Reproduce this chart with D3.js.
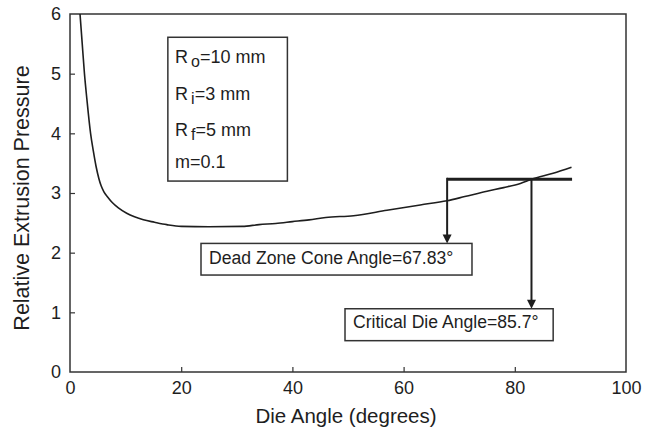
<!DOCTYPE html>
<html>
<head>
<meta charset="utf-8">
<script src="https://cdn.jsdelivr.net/npm/d3@7/dist/d3.min.js"></script>
<style>
  html, body { margin: 0; padding: 0; background: #fff; }
  svg { display: block; font-family: "Liberation Sans", Arial, Helvetica, sans-serif; }
</style>
</head>
<body>
<svg id="chart" width="651" height="433"></svg>
<script>
// Die angle (degrees) and relative extrusion pressure along the curve
const dieAngle = [1.8, 2.2, 2.6, 3.05, 3.7, 4.2, 4.7, 5.2, 5.6, 6.1, 6.8, 7.6, 8.7, 10.2, 11.6, 13.2, 15.2, 17.4, 20, 25, 31, 34, 37, 40, 43, 46, 51, 57, 63, 67.8, 71, 75, 78, 81, 83, 86.9, 90.2];
const pressure = [6.0, 5.5, 5.0, 4.56, 4.0, 3.7, 3.44, 3.24, 3.12, 3.02, 2.93, 2.84, 2.75, 2.66, 2.60, 2.55, 2.51, 2.47, 2.44, 2.435, 2.44, 2.47, 2.49, 2.52, 2.55, 2.59, 2.62, 2.71, 2.80, 2.87, 2.94, 3.03, 3.09, 3.16, 3.23, 3.33, 3.43];

// Reference pressure level and annotation values
const levelPressure = 3.23;
const levelAngleRange = [67.83, 90.3];
const deadZoneAngle = 67.83;
const criticalAngle = 85.7;

const xTicks = [0, 20, 40, 60, 80, 100];
const yTicks = [0, 1, 2, 3, 4, 5, 6];

const params = [
  { base: "R", sub: "o", rest: "=10 mm" },
  { base: "R", sub: "i", rest: "=3 mm" },
  { base: "R", sub: "f", rest: "=5 mm" },
  { base: "m=0.1", sub: "", rest: "" }
];

const svg = d3.select("#chart");
const margin = { left: 70, top: 14, right: 25, bottom: 61 };
const W = 651, H = 433;
const x = d3.scaleLinear().domain([0, 100]).range([margin.left, W - margin.right]);
const y = d3.scaleLinear().domain([0, 6]).range([H - margin.bottom, margin.top]);
const ink = "#1e1e1e";

svg.append("defs").append("clipPath").attr("id", "plotClip")
  .append("rect").attr("x", x(0)).attr("y", y(6)).attr("width", x(100) - x(0)).attr("height", y(0) - y(6));

// Frame
svg.append("rect")
  .attr("x", x(0)).attr("y", y(6))
  .attr("width", x(100) - x(0)).attr("height", y(0) - y(6))
  .attr("fill", "none").attr("stroke", "#333").attr("stroke-width", 1.5);

// Axes: inward ticks, labels outside
const xAxis = d3.axisBottom(x).tickValues(xTicks).tickSize(-5).tickPadding(9).tickFormat(d3.format("d"));
const gx = svg.append("g").attr("transform", `translate(0,${y(0)})`).call(xAxis);
gx.select(".domain").remove();
gx.selectAll(".tick line").attr("stroke", "#333").attr("stroke-width", 1.2)
  .filter(d => d === 0 || d === 100).remove();
gx.selectAll(".tick text").attr("font-size", 18).attr("fill", ink)
  .attr("font-family", "Liberation Sans, Arial, sans-serif");

const yAxis = d3.axisLeft(y).tickValues(yTicks).tickSize(-5).tickPadding(9).tickFormat(d3.format("d"));
const gy = svg.append("g").attr("transform", `translate(${x(0)},0)`).call(yAxis);
gy.select(".domain").remove();
gy.selectAll(".tick line").attr("stroke", "#333").attr("stroke-width", 1.2)
  .filter(d => d === 0 || d === 6).remove();
gy.selectAll(".tick text").attr("font-size", 18).attr("fill", ink)
  .attr("font-family", "Liberation Sans, Arial, sans-serif");

// Axis titles
svg.append("text")
  .attr("x", (x(0) + x(100)) / 2 - 2).attr("y", 423)
  .attr("text-anchor", "middle").attr("font-size", 20.5).attr("fill", ink)
  .text("Die Angle (degrees)");
svg.append("text")
  .attr("transform", `translate(29,${(y(0) + y(6)) / 2 + 5}) rotate(-90)`)
  .attr("text-anchor", "middle").attr("font-size", 21.5).attr("fill", ink)
  .text("Relative Extrusion Pressure");

// Pressure curve
const pts = dieAngle.map((a, i) => [a, pressure[i]]);
const line = d3.line().x(d => x(d[0])).y(d => y(d[1])).curve(d3.curveMonotoneX);
svg.append("path").datum(pts)
  .attr("clip-path", "url(#plotClip)")
  .attr("d", line)
  .attr("fill", "none").attr("stroke", ink).attr("stroke-width", 1.6);

// Angle where the rising branch of the curve reaches the reference level
function crossing(level) {
  for (let i = 1; i < pts.length; i++) {
    const [a0, p0] = pts[i - 1], [a1, p1] = pts[i];
    if ((p0 - level) * (p1 - level) <= 0 && a0 > 30) {
      return a0 + (level - p0) / (p1 - p0) * (a1 - a0);
    }
  }
  return null;
}
const crossAngle = crossing(levelPressure);

// Reference level line
svg.append("line")
  .attr("x1", x(levelAngleRange[0])).attr("x2", x(levelAngleRange[1]))
  .attr("y1", y(levelPressure)).attr("y2", y(levelPressure))
  .attr("stroke", ink).attr("stroke-width", 3);

// Annotation boxes with arrows
function arrowDown(ax, yTop, yTip) {
  svg.append("line").attr("x1", ax).attr("x2", ax).attr("y1", yTop).attr("y2", yTip - 7)
    .attr("stroke", ink).attr("stroke-width", 2);
  svg.append("path")
    .attr("d", `M${ax - 4.5},${yTip - 9} L${ax + 4.5},${yTip - 9} L${ax},${yTip} Z`)
    .attr("fill", ink);
}

function labelBox(tx, ty, str, boxRight, boxTop, boxBottom) {
  const g = svg.append("g");
  const rect = g.append("rect");
  const t = g.append("text").attr("x", tx).attr("y", ty)
    .attr("font-size", 17.6).attr("fill", ink).text(str);
  const bb = t.node().getBBox();
  const padL = 8;
  rect.attr("x", bb.x - padL).attr("y", boxTop)
    .attr("width", boxRight - bb.x + padL).attr("height", boxBottom - boxTop)
    .attr("fill", "#fff").attr("stroke", "#333").attr("stroke-width", 1.5);
}

const dzTop = y(2.155), dzBottom = y(1.625);
arrowDown(x(deadZoneAngle), y(levelPressure) - 1.5, dzTop);
labelBox(x(25.0), y(1.81), `Dead Zone Cone Angle=${deadZoneAngle}°`, x(72.3), dzTop, dzBottom);

const cdTop = y(1.06), cdBottom = y(0.525);
arrowDown(x(crossAngle), y(levelPressure), cdTop);
labelBox(x(50.9), y(0.73), `Critical Die Angle=${criticalAngle}°`, x(86.9), cdTop, cdBottom);

// Process parameter box
const pb = svg.append("g");
pb.append("rect")
  .attr("x", x(17.6)).attr("y", y(5.61))
  .attr("width", x(39.1) - x(17.6)).attr("height", y(3.2) - y(5.61))
  .attr("fill", "#fff").attr("stroke", "#333").attr("stroke-width", 1.5);
const baselines = [63, 99.5, 135.5, 168];
params.forEach((p, i) => {
  const t = pb.append("text").attr("x", x(18.9)).attr("y", baselines[i])
    .attr("font-size", 18).attr("fill", ink);
  t.append("tspan").text(p.base);
  if (p.sub) {
    t.append("tspan").attr("dx", 3).attr("dy", 4).attr("font-size", 16).text(p.sub);
    t.append("tspan").attr("dy", -4).text(p.rest);
  }
});
</script>
</body>
</html>
